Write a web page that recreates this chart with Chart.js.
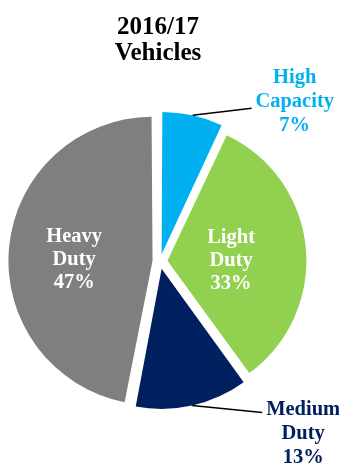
<!DOCTYPE html>
<html><head><meta charset="utf-8">
<script src="https://cdn.jsdelivr.net/npm/chart.js@4.4.1/dist/chart.umd.min.js"></script>
<style>html,body{margin:0;padding:0;background:#fff;}#wrap{width:339px;height:466px;}</style>
</head><body><div id="wrap"><canvas id="c" width="339" height="466"></canvas></div>
<script>
const titleLines = ['2016/17', 'Vehicles'];
const categories = ['High Capacity', 'Light Duty', 'Medium Duty', 'Heavy Duty'];
const labelLines = [['High', 'Capacity'], ['Light', 'Duty'], ['Medium', 'Duty'], ['Heavy', 'Duty']];
const shares = [7, 33, 13, 47];

const sliceColors = ['#00B0F0', '#92D050', '#002060', '#7F7F7F'];
const textColors = ['#00B0F0', '#FFFFFF', '#002060', '#FFFFFF'];
const FONT = '"Liberation Serif", "Times New Roman", serif';
// label placement styles (relative to arc geometry)
const labelStyle = [
  {outside: true, lead: [59, -7], tx: 43, ty: -25, lh: 24},
  {outside: false, frac: 0.46, dx: 0, dy: -12, lh: 23},
  {outside: true, lead: [70, 7], tx: 41, ty: 3, lh: 24},
  {outside: false, frac: 0.56, dx: 2, dy: -11, lh: 23}
];

const textPlugin = {
  id: 'texts',
  afterDatasetsDraw(chart) {
    const ctx = chart.ctx;
    ctx.save();
    // title
    ctx.fillStyle = '#000';
    ctx.font = 'bold 25px ' + FONT;
    ctx.textAlign = 'center';
    ctx.textBaseline = 'alphabetic';
    const tcx = (chart.chartArea.left + chart.chartArea.right) / 2 - 2;
    ctx.fillText(titleLines[0], tcx, 34);
    ctx.fillText(titleLines[1], tcx, 60);

    const meta = chart.getDatasetMeta(0);
    meta.data.forEach((arc, i) => {
      const st = labelStyle[i];
      const mid = (arc.startAngle + arc.endAngle) / 2;
      const t = (arc.options.offset || 0) / 4;
      const fix = 1 - Math.sin(Math.min(Math.PI, arc.circumference));
      const R = arc.outerRadius + t * fix;
      const sx = arc.x + Math.cos(mid) * t;
      const sy = arc.y + Math.sin(mid) * t;
      const lines = labelLines[i].concat([shares[i] + '%']);
      let ax, ay;
      if (st.outside) {
        const px = sx + Math.cos(mid) * R;
        const py = sy + Math.sin(mid) * R;
        const ex = px + st.lead[0];
        const ey = py + st.lead[1];
        ctx.strokeStyle = '#000';
        ctx.lineWidth = 1.5;
        ctx.beginPath();
        ctx.moveTo(px, py);
        ctx.lineTo(ex, ey);
        ctx.stroke();
        ax = ex + st.tx;
        ay = ey + st.ty;
      } else {
        ax = sx + Math.cos(mid) * R * st.frac + st.dx;
        ay = sy + Math.sin(mid) * R * st.frac + st.dy;
      }
      ctx.fillStyle = textColors[i];
      ctx.font = 'bold 20.5px ' + FONT;
      ctx.textAlign = 'center';
      lines.forEach((ln, k) => ctx.fillText(ln, ax, ay + k * st.lh));
    });
    ctx.restore();
  }
};

new Chart(document.getElementById('c'), {
  type: 'pie',
  data: {
    labels: categories,
    datasets: [{
      data: shares,
      backgroundColor: sliceColors,
      borderWidth: 0,
      offset: 30
    }]
  },
  options: {
    responsive: false,
    animation: false,
    events: [],
    radius: 138,
    layout: {padding: {left: 0, right: 19, top: 57, bottom: 0}},
    plugins: {legend: {display: false}, title: {display: false}, tooltip: {enabled: false}}
  },
  plugins: [textPlugin]
});
</script>
</body></html>
